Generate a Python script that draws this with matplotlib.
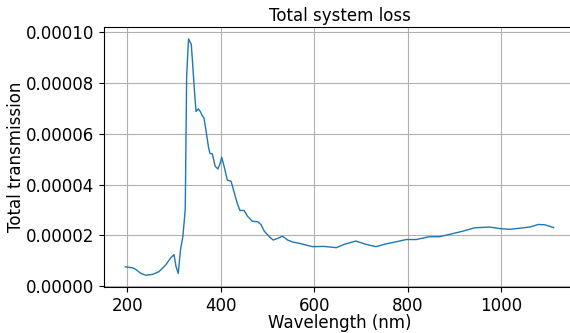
import matplotlib
matplotlib.use("Agg")
import matplotlib.pyplot as plt

# wavelength (nm) and total transmission
wavelength = [196, 211, 218, 229, 239, 254, 268, 282, 293, 300, 304, 309, 314, 319,
              324, 327, 331, 337, 343, 347, 352, 356, 361, 364, 368, 374, 377, 382,
              388, 394, 399, 402, 407, 414, 422, 429, 436, 441, 450, 457, 467, 479,
              486, 493, 504, 512, 521, 532, 543, 554, 568, 596, 621, 647, 664, 689,
              711, 732, 754, 775, 797, 818, 846, 868, 896, 918, 943, 975, 997, 1018,
              1061, 1079, 1093, 1112]
transmission = [7.7, 7.3, 6.7, 5.1, 4.4, 4.7, 5.8, 8.4, 11.2, 12.5, 8.0, 5.1, 14.5, 19.7,
                30.2, 82.5, 97.2, 95.0, 78.6, 68.7, 69.7, 68.7, 66.8, 66.2, 61.6, 54.4,
                52.2, 52.0, 47.2, 46.1, 48.5, 50.7, 47.2, 41.7, 41.3, 36.7, 32.2, 29.8,
                29.8, 27.6, 25.6, 25.4, 24.3, 21.7, 19.5, 18.2, 18.8, 19.7, 18.2, 17.4,
                16.9, 15.6, 15.7, 15.2, 16.5, 17.8, 16.5, 15.6, 16.7, 17.5, 18.4, 18.4,
                19.5, 19.5, 20.7, 21.7, 23.0, 23.3, 22.7, 22.4, 23.3, 24.3, 24.2, 23.1]
transmission = [v * 1e-6 for v in transmission]

plt.rcParams["font.size"] = 12

fig = plt.figure(figsize=(5.7, 3.33), dpi=100)
# axes run slightly past the right edge, as in the cropped reference
ax = fig.add_axes([104 / 570, 46 / 333, 471 / 570, 260 / 333])
ax.plot(wavelength, transmission, color="#1f77b4", linewidth=1)
ax.set_title("Total system loss", fontsize=12, pad=4)
ax.set_xlabel("Wavelength (nm)", labelpad=-0.5)
ax.set_ylabel("Total transmission", labelpad=0.5)
ax.set_xticks([200, 400, 600, 800, 1000])
ax.set_yticks([0, 0.00002, 0.00004, 0.00006, 0.00008, 0.0001])
ax.set_yticklabels(["0.00000", "0.00002", "0.00004", "0.00006", "0.00008", "0.00010"])
ax.grid(True)

fig.savefig("out.png", dpi=100)
